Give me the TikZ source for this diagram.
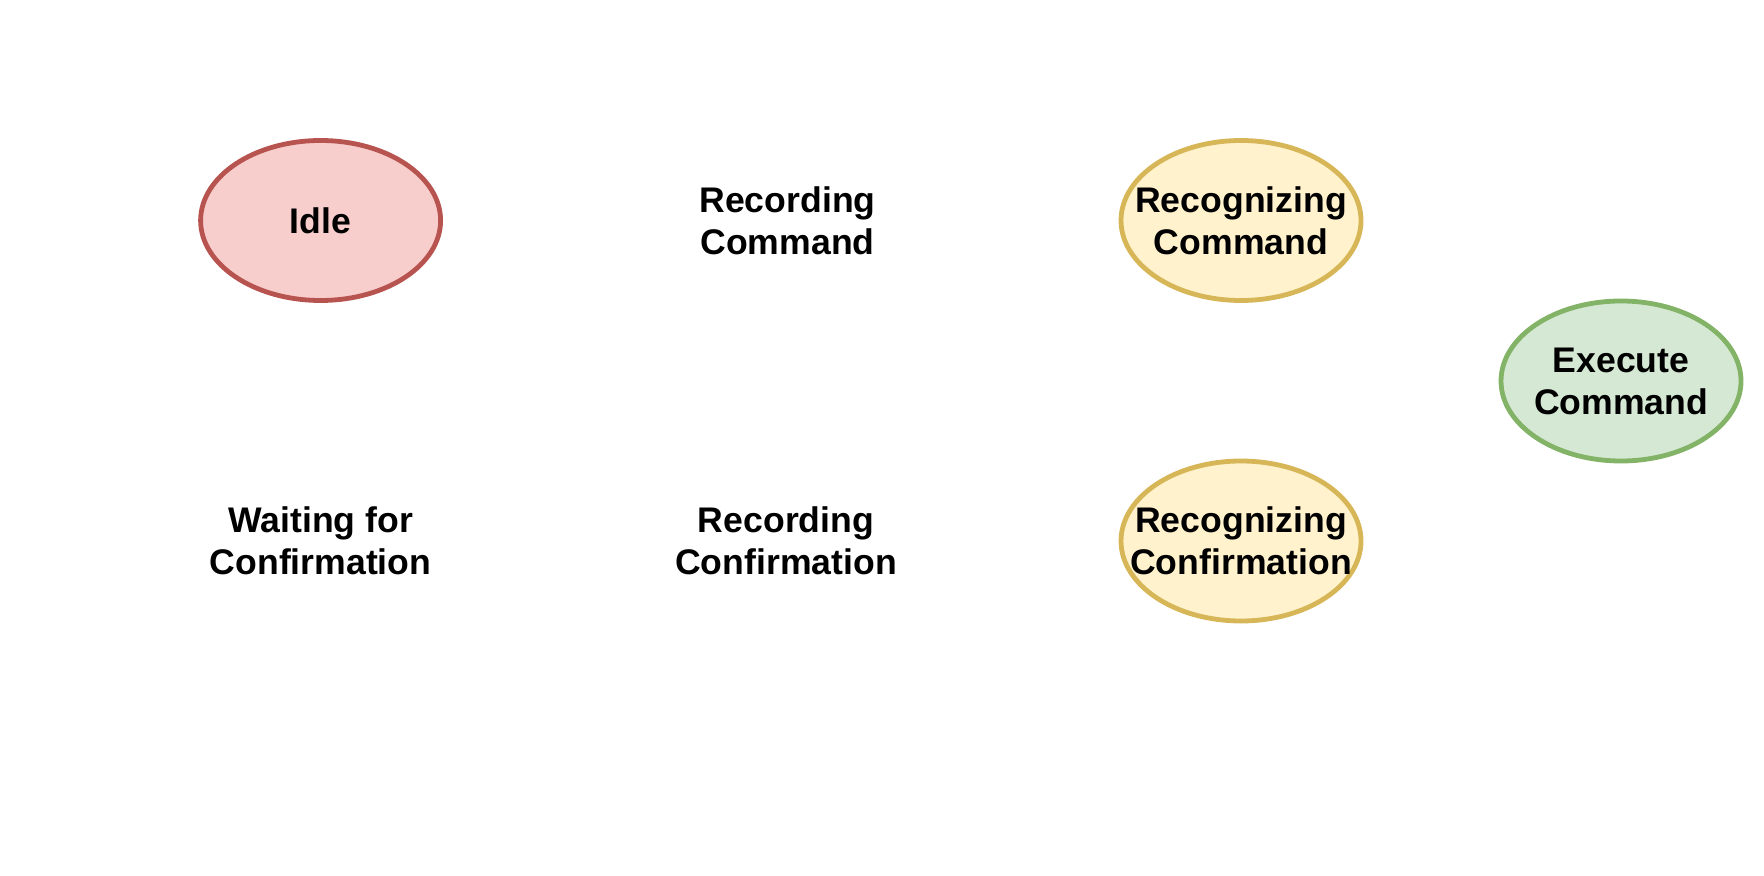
\documentclass[tikz,border=0pt]{standalone}
\usepackage{fontspec}
\setmainfont{Liberation Sans}
\usetikzlibrary{shapes.geometric}
\definecolor{redfill}{HTML}{F8CECC}
\definecolor{redline}{HTML}{B85450}
\definecolor{yelfill}{HTML}{FFF2CC}
\definecolor{yelline}{HTML}{D6B656}
\definecolor{grnfill}{HTML}{D5E8D4}
\definecolor{grnline}{HTML}{82B366}
\tikzset{
  lbl/.style={font=\fontsize{17.8pt}{21pt}\selectfont\bfseries, align=center, inner sep=0pt},
  state/.style={ellipse, inner sep=0pt, minimum width=120pt, minimum height=80pt, line width=2.4pt},
  redst/.style={state, draw=redline, fill=redfill},
  yelst/.style={state, draw=yelline, fill=yelfill},
  grnst/.style={state, draw=grnline, fill=grnfill},
}
\begin{document}
\begin{tikzpicture}[x=0.5pt,y=-0.5pt]
\useasboundingbox (0,0) rectangle (1764,876);
\node[redst] (idle) at (320.6,220.5) {};
\node[lbl] (idle-t) at (idle) {Idle};
\node[lbl] (reccmd) at (787.5,220.5) {Recording\\Command};
\node[yelst] (recogcmd) at (1241,220.5) {};
\node[lbl] (recogcmd-t) at (recogcmd) {Recognizing\\Command};
\node[grnst] (exec) at (1621,381) {};
\node[lbl] (exec-t) at (exec) {Execute\\Command};
\node[lbl] (wait) at (320.6,541) {Waiting for\\Confirmation};
\node[lbl] (recconf) at (786,541) {Recording\\Confirmation};
\node[yelst] (recogconf) at (1241,541) {};
\node[lbl] (recogconf-t) at (recogconf) {Recognizing\\Confirmation};
\end{tikzpicture}
\end{document}
